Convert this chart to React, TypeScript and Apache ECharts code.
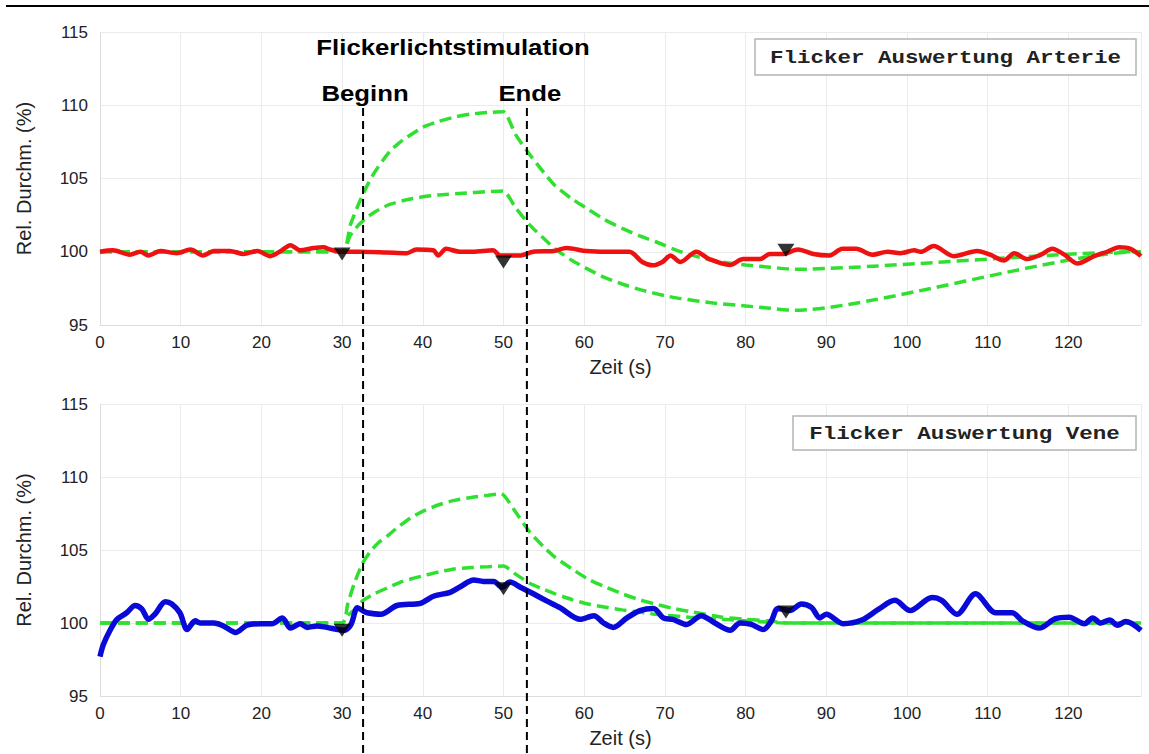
import React, { useEffect, useRef } from "react";
import * as echarts from "echarts";

// ---- data (time in s, relative diameter in %) ----
const arteryMeasured: number[][] = [
  [0, 100], [1.6, 100.1], [3.7, 99.8], [5, 100], [6, 99.75], [7.5, 100.05], [9.5, 99.9], [11.2, 100.15],
  [12.8, 99.75], [14.1, 100.05], [16.1, 100.05], [17.8, 99.85], [19.5, 100.05], [21.1, 99.7], [22.4, 100.05],
  [23.6, 100.45], [24.8, 100.1], [26.5, 100.25], [27.7, 100.3], [28.5, 100.15], [29.9, 100], [32.2, 100],
  [35.5, 99.95], [38, 99.9], [39.2, 100.15], [41.3, 100.1], [41.9, 99.75], [42.9, 100.2], [44.6, 100],
  [46.2, 100], [48.7, 100.1], [49.6, 99.75], [52, 99.75], [53.7, 100], [56.2, 100.05], [57.8, 100.25],
  [60.3, 100.05], [62.7, 100], [65.6, 100], [67.2, 99.3], [68.5, 99.07], [69.7, 99.3], [70.7, 99.75],
  [71.9, 99.3], [73.9, 100], [75.5, 99.5], [78.05, 99.1], [79.7, 99.5], [81.8, 99.5], [83, 99.85],
  [84.7, 99.85], [86.5, 100.15], [88.4, 99.85], [90.4, 99.75], [92, 100.2], [93.7, 100.2], [95.7, 99.8],
  [97.6, 100], [99.2, 99.9], [100.9, 100.1], [101.7, 100], [103.3, 100.4], [105.8, 99.7], [108.7, 100.05],
  [110.3, 99.8], [112, 99.4], [113.3, 99.9], [114.9, 99.5], [116.6, 99.8], [118, 100.2], [119.5, 99.8],
  [121.1, 99.2], [123.2, 99.7], [124.8, 100], [126.3, 100.3], [127.7, 100.2], [129, 99.7],
];

const arteryModelHigh: number[][] = [
  [0, 100], [30, 100], [31, 101.8], [32, 103.2], [33, 104.4], [34, 105.4], [35, 106.2], [36, 106.9],
  [37, 107.4], [38, 107.8], [40, 108.5], [42, 108.9], [44, 109.2], [46, 109.4], [48, 109.5], [50, 109.55],
  [51.5, 108.0], [53.3, 106.6], [55, 105.4], [56.4, 104.5], [58.5, 103.6], [60.5, 102.9], [62.5, 102.2],
  [64.7, 101.6], [66.8, 101.1], [68.8, 100.7], [71, 100.2], [73, 99.8], [77, 99.3], [80, 99.1],
  [83, 98.95], [86, 98.8], [128.5, 100], [129, 100],
];

const arteryModelLow: number[][] = [
  [0, 100], [30, 100], [31, 101.1], [32, 101.8], [33, 102.3], [34, 102.7], [35, 103.0], [36, 103.25],
  [38, 103.55], [40, 103.75], [42, 103.88], [45, 104.0], [48, 104.1], [50, 104.15], [51.5, 103.0],
  [53.3, 101.8], [55, 100.9], [56.4, 100.2], [58.5, 99.4], [60.5, 98.8], [62.5, 98.25], [64.7, 97.8],
  [67, 97.4], [70, 97.0], [72, 96.8], [76, 96.5], [80, 96.3], [83, 96.15], [86, 96.0], [128.5, 100], [129, 100],
];

const veinMeasured: number[][] = [
  [0, 97.7], [0.4, 98.5], [1.2, 99.45], [2.1, 100.25], [3.3, 100.7], [4.35, 101.2], [5.2, 100.95], [6, 100.25],
  [6.8, 100.6], [8.1, 101.45], [8.9, 101.3], [9.9, 100.7], [10.8, 99.55], [11.8, 100.15], [12.4, 100],
  [14.1, 100], [15.3, 99.8], [16.8, 99.35], [18.2, 99.85], [19.9, 99.95], [21.3, 99.95], [22.6, 100.35],
  [23.6, 99.65], [24.8, 99.95], [25.7, 99.7], [26.9, 99.8], [28.1, 99.7], [30.2, 99.5], [31.1, 99.9],
  [31.9, 101.05], [32.7, 100.8], [33.1, 100.7], [34.8, 100.6], [36.8, 101.2], [39.7, 101.35], [41.4, 101.85],
  [43.4, 102.1], [44.7, 102.5], [46.3, 102.95], [47.5, 102.85], [48.8, 102.85], [49.8, 102.45], [50.8, 102.8],
  [52.1, 102.45], [53.7, 102.0], [55.4, 101.5], [57, 101.05], [59.5, 100.25], [61.2, 100.5], [62.4, 100],
  [63.6, 99.7], [65.3, 100.35], [66.9, 100.85], [68.6, 101], [69.8, 100.35], [71, 100.25], [72.7, 99.9],
  [74.5, 100.5], [76.2, 100], [78.1, 99.5], [79.3, 100], [80.7, 99.9], [82.2, 99.55], [83.2, 100.15],
  [84, 101], [85.5, 100.85], [86.9, 101.3], [88.2, 101.05], [89.2, 100.35], [90, 100.6], [92.1, 99.95],
  [94.4, 100.2], [96.5, 100.95], [98.5, 101.55], [100.4, 100.85], [103.1, 101.75], [104.3, 101.55],
  [106.2, 100.6], [108.5, 102], [111, 100.7], [113.05, 100.7], [114.3, 100.15], [116.4, 99.65],
  [118.4, 100.3], [120.1, 100.4], [122, 99.95], [123, 100.35], [124, 100], [125.1, 100.2], [126.1, 99.85],
  [127.1, 100.1], [129, 99.5],
];

const veinModelHigh: number[][] = [
  [0, 100], [30, 100], [30.7, 101.3], [31.5, 102.7], [32.5, 104.05], [33.5, 104.9], [34.5, 105.5],
  [35.6, 105.95], [37, 106.6], [38.5, 107.2], [39.8, 107.6], [42, 108.1], [43.9, 108.4], [46, 108.6],
  [48.1, 108.75], [49.7, 108.85], [51.5, 107.6], [53.3, 106.2], [55, 105.2], [56.4, 104.5], [58.5, 103.7],
  [60.5, 103.0], [62.5, 102.5], [64.7, 102.0], [66.8, 101.6], [68.8, 101.3], [71, 101.0], [73, 100.8],
  [77.1, 100.4], [80, 100.25], [82.8, 100.15], [85.3, 100], [129, 100],
];

const veinModelLow: number[][] = [
  [0, 100], [30, 100], [30.7, 100.5], [31.5, 100.9], [32.5, 101.5], [34, 102.0], [35.6, 102.4],
  [37.5, 102.85], [39.8, 103.2], [42, 103.5], [43.9, 103.7], [46, 103.8], [48.1, 103.85], [50, 103.9],
  [51.5, 103.35], [53.3, 102.7], [55, 102.3], [56.4, 102.0], [58.5, 101.6], [60.5, 101.3], [62.5, 101.1],
  [64.7, 100.9], [66.8, 100.75], [68.8, 100.6], [73, 100.4], [77.1, 100.25], [81, 100.12], [85, 100], [129, 100],
];

const arteryMarkers: number[][] = [[30, 99.85], [50, 99.3], [85, 100.1]];
const veinMarkers: number[][] = [[30, 99.5], [50, 102.35], [85, 100.75]];

const stimBegin = 32.6;
const stimEnd = 52.9;

const X_MIN = 0;
const X_MAX = 129;
const X_STEP = 10;
const Y_MIN = 95;
const Y_MAX = 115;
const Y_STEP = 5;

const TITLE = "Flickerlichtstimulation";
const BEGIN_LABEL = "Beginn";
const END_LABEL = "Ende";
const ARTERY_LEGEND = "Flicker Auswertung Arterie";
const VEIN_LEGEND = "Flicker Auswertung Vene";
const X_NAME = "Zeit (s)";
const Y_NAME = "Rel. Durchm. (%)";

const GREEN = "#30e030";
const RED = "#ee1111";
const BLUE = "#0a0ad8";

export default function App() {
  const ref = useRef<HTMLDivElement>(null);

  useEffect(() => {
    if (!ref.current) return;
    const chart = echarts.init(ref.current, null, { renderer: "svg" });

    const makeX = (gridIndex: number) => ({
      type: "value",
      gridIndex,
      min: X_MIN,
      max: X_MAX,
      interval: X_STEP,
      name: X_NAME,
      nameLocation: "middle",
      nameGap: 32,
      nameTextStyle: { fontSize: 20, color: "#222", fontFamily: "Liberation Sans" },
      axisLine: { show: true, lineStyle: { color: "#dddddd", width: 1 } },
      axisTick: { show: false },
      axisLabel: {
        fontSize: 17,
        color: "#222",
        margin: 9,
        fontFamily: "Liberation Sans",
        formatter: (v: number) => (v % X_STEP === 0 ? String(v) : ""),
      },
      splitLine: { show: true, lineStyle: { color: "#ebebeb", width: 1 } },
    });

    const makeY = (gridIndex: number) => ({
      type: "value",
      gridIndex,
      min: Y_MIN,
      max: Y_MAX,
      interval: Y_STEP,
      name: Y_NAME,
      nameLocation: "middle",
      nameGap: 66,
      nameTextStyle: {
        fontSize: 20,
        color: "#222",
        fontFamily: "'Liberation Sans Narrow', 'Liberation Sans', sans-serif",
      },
      axisLine: { show: true, lineStyle: { color: "#dddddd", width: 1 } },
      axisTick: { show: false },
      axisLabel: { fontSize: 17, color: "#222", margin: 12, fontFamily: "Liberation Sans" },
      splitLine: { show: true, lineStyle: { color: "#ebebeb", width: 1 } },
    });

    const dashed = (data: number[][], idx: number) => ({
      type: "line",
      xAxisIndex: idx,
      yAxisIndex: idx,
      data,
      showSymbol: false,
      symbol: "none",
      smooth: 0.2,
      z: 2,
      lineStyle: { color: GREEN, width: 3.5, type: [12, 6] },
    });

    const solid = (data: number[][], idx: number, color: string, width: number) => ({
      type: "line",
      xAxisIndex: idx,
      yAxisIndex: idx,
      data,
      showSymbol: false,
      symbol: "none",
      smooth: 0.3,
      z: 3,
      lineStyle: { color, width },
    });

    const markers = (data: number[][], idx: number) => ({
      type: "scatter",
      xAxisIndex: idx,
      yAxisIndex: idx,
      data,
      symbol: "triangle",
      symbolRotate: 180,
      symbolSize: [17, 13],
      itemStyle: { color: "#000" },
      z: 5,
    });

    chart.setOption({
      animation: false,
      backgroundColor: "#ffffff",
      grid: [
        { left: 100, right: 8, top: 32, height: 293 },
        { left: 100, right: 8, top: 404, height: 292 },
      ],
      xAxis: [makeX(0), makeX(1)],
      yAxis: [makeY(0), makeY(1)],
      series: [
        dashed(arteryModelHigh, 0),
        dashed(arteryModelLow, 0),
        solid(arteryMeasured, 0, RED, 4.5),
        markers(arteryMarkers, 0),
        dashed(veinModelHigh, 1),
        dashed(veinModelLow, 1),
        solid(veinMeasured, 1, BLUE, 5.5),
        markers(veinMarkers, 1),
      ],
    });

    const bx = chart.convertToPixel({ xAxisIndex: 0 }, stimBegin) as number;
    const ex = chart.convertToPixel({ xAxisIndex: 0 }, stimEnd) as number;
    const titleX = (bx + ex) / 2 + 8;

    const boldText = (text: string, x: number, y: number) => ({
      type: "text",
      z: 100,
      x,
      y,
      scaleX: 1.12,
      style: {
        text,
        fontSize: 23,
        fontWeight: "bold",
        fontFamily: "Liberation Sans",
        fill: "#000",
        align: "center",
        verticalAlign: "middle",
      },
    });

    const legendText = (text: string, x: number, y: number) => ({
      type: "text",
      z: 101,
      x,
      y,
      scaleX: 1.25,
      style: {
        text,
        fontSize: 18,
        fontWeight: "bold",
        fontFamily: "'Liberation Mono', 'DejaVu Sans Mono', monospace",
        fill: "#222",
        align: "center",
        verticalAlign: "middle",
      },
    });

    chart.setOption({
      graphic: [
        {
          type: "line",
          z: 100,
          shape: { x1: 6, y1: 6, x2: 1149, y2: 6 },
          style: { stroke: "#000", lineWidth: 2 },
        },
        {
          type: "line",
          z: 100,
          shape: { x1: bx, y1: 108, x2: bx, y2: 754 },
          style: { stroke: "#000", lineWidth: 2, lineDash: [8, 5] },
        },
        {
          type: "line",
          z: 100,
          shape: { x1: ex, y1: 108, x2: ex, y2: 754 },
          style: { stroke: "#000", lineWidth: 2, lineDash: [8, 5] },
        },
        boldText(TITLE, titleX, 47),
        boldText(BEGIN_LABEL, bx + 2, 93),
        boldText(END_LABEL, ex + 3, 93),
        {
          type: "rect",
          z: 100,
          shape: { x: 755, y: 39, width: 381, height: 36 },
          style: { fill: "#fff", stroke: "#b4b4b4", lineWidth: 1.5 },
        },
        legendText(ARTERY_LEGEND, 945.5, 58),
        {
          type: "rect",
          z: 100,
          shape: { x: 793, y: 416, width: 343, height: 34 },
          style: { fill: "#fff", stroke: "#b4b4b4", lineWidth: 1.5 },
        },
        legendText(VEIN_LEGEND, 964.5, 434),
      ],
    });

    return () => {
      chart.dispose();
    };
  }, []);

  return (
    <div
      ref={ref}
      style={{ position: "fixed", left: 0, top: 0, width: 1149, height: 754, background: "#fff" }}
    />
  );
}
